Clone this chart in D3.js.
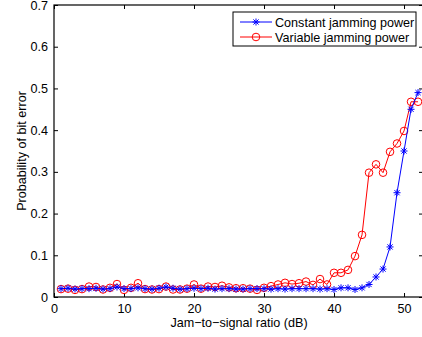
<!DOCTYPE html>
<html>
<head>
<meta charset="utf-8">
<script src="https://cdn.jsdelivr.net/npm/d3@7"></script>
<style>
body { margin: 0; background: #fff; overflow: hidden; }
text { font-family: "Liberation Sans", Arial, sans-serif; }
</style>
</head>
<body>
<svg id="chart" width="422" height="337"></svg>
<script>
// jam-to-signal ratio (dB)
var jsr = d3.range(1, 53);
var constantPower = [0.020,0.021,0.019,0.020,0.020,0.021,0.019,0.020,0.024,0.020,0.020,0.022,0.020,0.019,0.021,0.024,0.021,0.019,0.020,0.021,0.020,0.021,0.019,0.020,0.020,0.019,0.019,0.020,0.020,0.020,0.019,0.020,0.019,0.020,0.020,0.020,0.020,0.019,0.020,
  0.018,0.022,0.022,0.018,0.022,0.030,0.048,0.067,0.12,0.25,0.35,0.45,0.49];
var variablePower = [0.019,0.020,0.017,0.019,0.025,0.024,0.018,0.022,0.031,0.017,0.022,0.033,0.019,0.018,0.019,0.025,0.018,0.018,0.020,0.030,0.020,0.025,0.024,0.027,0.023,0.021,0.021,0.020,0.017,
  0.022,0.026,0.030,0.034,0.031,0.033,0.037,0.029,0.043,0.030,0.058,0.058,0.065,0.098,0.149,0.298,0.318,0.298,0.348,0.368,0.398,0.468,0.468];
var xTicks = [0,10,20,30,40,50];
var yTicks = [0,0.1,0.2,0.3,0.4,0.5,0.6,0.7];
var legendNames = ["Constant jamming power", "Variable jamming power"];

var svg = d3.select("#chart");
var mLeft = 54, mRight = 423, mTop = 5, mBottom = 297;
var fs = "12.6px";

var x = d3.scaleLinear().domain([0, 52.71]).range([mLeft, mRight]);
var y = d3.scaleLinear().domain([0, 0.7]).range([mBottom, mTop]);

// ticks (inward)
svg.append("g").attr("transform", "translate(0," + mBottom + ")")
  .call(d3.axisBottom(x).tickValues(xTicks).tickSizeInner(-4).tickSizeOuter(0).tickPadding(7).tickFormat(d3.format("d")));
svg.append("g").attr("transform", "translate(0," + mTop + ")")
  .call(d3.axisTop(x).tickValues(xTicks).tickSizeInner(-4).tickSizeOuter(0).tickFormat(""));
svg.append("g").attr("transform", "translate(" + mLeft + ",0)")
  .call(d3.axisLeft(y).tickValues(yTicks).tickSizeInner(-4).tickSizeOuter(0).tickPadding(6)
  .tickFormat(function(d){ return d === 0 ? "0" : d3.format(".1f")(d); }));
svg.append("g").attr("transform", "translate(" + mRight + ",0)")
  .call(d3.axisRight(y).tickValues(yTicks).tickSizeInner(-4).tickSizeOuter(0).tickFormat(""));

svg.selectAll(".domain").remove();
svg.selectAll(".tick line").attr("stroke", "#000");
svg.selectAll(".tick text").attr("font-size", fs).attr("fill", "#000")
  .attr("font-family", "'Liberation Sans', Arial, sans-serif");

svg.append("rect").attr("x", mLeft).attr("y", mTop).attr("width", mRight - mLeft).attr("height", mBottom - mTop)
  .attr("fill", "none").attr("stroke", "#000").attr("stroke-width", 1.2);

var line = d3.line().x(function(d,i){ return x(jsr[i]); }).y(function(d){ return y(d); });

function star(g, color) {
  g.append("line").attr("x1", -3.5).attr("x2", 3.5).attr("y1", 0).attr("y2", 0);
  g.append("line").attr("x1", 0).attr("x2", 0).attr("y1", -3.5).attr("y2", 3.5);
  g.append("line").attr("x1", -2.6).attr("x2", 2.6).attr("y1", -2.6).attr("y2", 2.6);
  g.append("line").attr("x1", -2.6).attr("x2", 2.6).attr("y1", 2.6).attr("y2", -2.6);
  g.selectAll("line").attr("stroke", color).attr("stroke-width", 1);
}

var plot = svg.append("g");
// variable (red circles)
plot.append("path").datum(variablePower).attr("d", line).attr("fill", "none").attr("stroke", "#f00").attr("stroke-width", 1);
plot.selectAll("circle.v").data(variablePower).enter().append("circle")
  .attr("cx", function(d,i){ return x(jsr[i]); }).attr("cy", function(d){ return y(d); })
  .attr("r", 3.8).attr("fill", "none").attr("stroke", "#f00").attr("stroke-width", 1);
// constant (blue stars)
plot.append("path").datum(constantPower).attr("d", line).attr("fill", "none").attr("stroke", "#00f").attr("stroke-width", 1);
plot.selectAll("g.c").data(constantPower).enter().append("g")
  .attr("transform", function(d,i){ return "translate(" + x(jsr[i]) + "," + y(d) + ")"; })
  .each(function(){ star(d3.select(this), "#00f"); });

// axis labels
svg.append("text").attr("x", 239).attr("y", 327).attr("text-anchor", "middle").attr("font-size", fs)
  .text("Jam\u2212to\u2212signal ratio (dB)");
svg.append("text").attr("transform", "translate(26,151) rotate(-90)").attr("text-anchor", "middle").attr("font-size", fs)
  .text("Probability of bit error");

// legend
var lg = svg.append("g").attr("transform", "translate(233,12)");
lg.append("rect").attr("width", 183).attr("height", 34).attr("fill", "#fff").attr("stroke", "#000").attr("stroke-width", 1);
var colors = ["#00f", "#f00"];
legendNames.forEach(function(name, i) {
  var yy = 10 + i * 15;
  lg.append("line").attr("x1", 7).attr("x2", 39).attr("y1", yy).attr("y2", yy).attr("stroke", colors[i]).attr("stroke-width", 1);
  if (i === 0) {
    star(lg.append("g").attr("transform", "translate(23," + yy + ")"), colors[i]);
  } else {
    lg.append("circle").attr("cx", 23).attr("cy", yy).attr("r", 3.8).attr("fill", "none").attr("stroke", colors[i]);
  }
  lg.append("text").attr("x", 42).attr("y", yy + 4.5).attr("font-size", fs).text(name);
});
</script>
</body>
</html>
